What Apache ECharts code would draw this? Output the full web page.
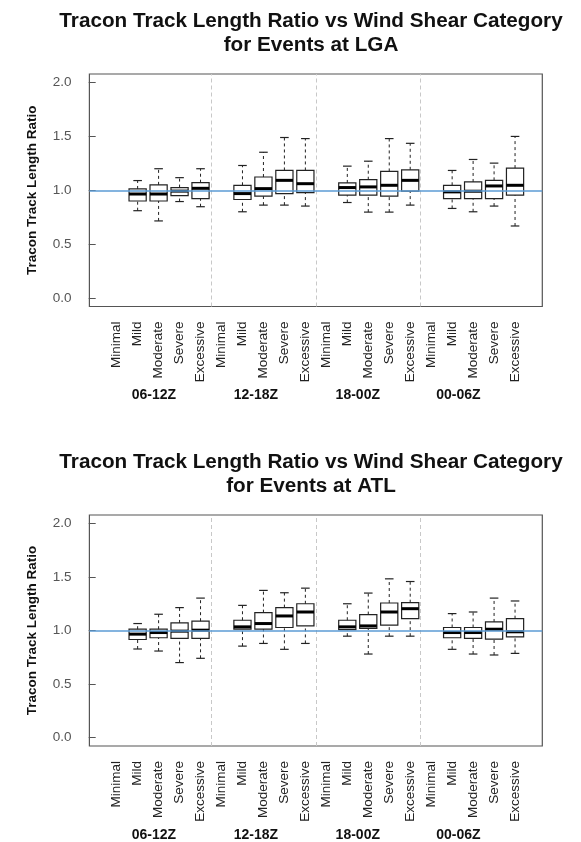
<!DOCTYPE html>
<html>
<head>
<meta charset="utf-8">
<script src="https://cdn.jsdelivr.net/npm/echarts@6/dist/echarts.min.js"></script>
<style>
  html, body { margin: 0; padding: 0; background: #fff; }
  #chart { width: 581px; height: 842px; }
</style>
</head>
<body>
<div id="chart"></div>
<script>
// ---------------- DATA ----------------
const categories = ['Minimal', 'Mild', 'Moderate', 'Severe', 'Excessive'];
const timeGroups = ['06-12Z', '12-18Z', '18-00Z', '00-06Z'];
const yTicks = [0, 0.5, 1, 1.5, 2];
const referenceValue = 1.0;

// LGA (order: 06-12Z, 12-18Z, 18-00Z, 00-06Z; each Minimal, Mild, Moderate, Severe, Excessive)
const lgaLow    = [null, 0.81, 0.715, 0.895, 0.847,  null, 0.80, 0.862, 0.862, 0.853,  null, 0.886, 0.797, 0.797, 0.862,  null, 0.831, 0.80, 0.853, 0.668];
const lgaQ1     = [null, 0.90, 0.90, 0.95, 0.923,    null, 0.914, 0.945, 0.969, 0.978, null, 0.954, 0.954, 0.945, 0.991, null, 0.923, 0.923, 0.923, 0.954];
const lgaMedian = [null, 0.965, 0.965, 0.992, 1.018, null, 0.969, 1.015, 1.092, 1.061, null, 1.025, 1.031, 1.046, 1.092, null, 0.985, 0.991, 1.04, 1.046];
const lgaQ3     = [null, 1.012, 1.05, 1.025, 1.07,   null, 1.046, 1.123, 1.184, 1.184, null, 1.068, 1.098, 1.175, 1.19,  null, 1.046, 1.077, 1.092, 1.206];
const lgaHigh   = [null, 1.09, 1.20, 1.117, 1.20,    null, 1.23, 1.353, 1.49, 1.48,    null, 1.224, 1.27, 1.48, 1.436,   null, 1.184, 1.286, 1.252, 1.50];

// ATL
const atlLow    = [null, 0.827, 0.808, 0.70, 0.74,   null, 0.854, 0.879, 0.824, 0.879, null, 0.947, 0.78, 0.947, 0.947,  null, 0.824, 0.78, 0.771, 0.786];
const atlQ1     = [null, 0.916, 0.932, 0.926, 0.926, null, 1.012, 1.012, 1.028, 1.043, null, 1.009, 1.019, 1.05, 1.111,  null, 0.932, 0.926, 0.92, 0.941];
const atlMedian = [null, 0.966, 0.981, 0.994, 1.003, null, 1.034, 1.065, 1.136, 1.173, null, 1.034, 1.043, 1.173, 1.204, null, 0.981, 0.981, 1.012, 0.988];
const atlQ3     = [null, 1.012, 1.012, 1.071, 1.087, null, 1.096, 1.167, 1.214, 1.25,  null, 1.096, 1.149, 1.257, 1.26,  null, 1.028, 1.028, 1.08, 1.111];
const atlHigh   = [null, 1.065, 1.152, 1.214, 1.303, null, 1.235, 1.375, 1.353, 1.396, null, 1.25, 1.35, 1.483, 1.458,   null, 1.158, 1.173, 1.303, 1.276];

const titleLine1 = 'Tracon Track Length Ratio vs Wind Shear Category';
const lgaTitle2 = 'for Events at LGA';
const atlTitle2 = 'for Events at ATL';
const yName = 'Tracon Track Length Ratio';

// ---------------- LAYOUT / STYLE ----------------
const nCat = categories.length * timeGroups.length;
const xMin = 0.5 - 0.04 * nCat;   // R-style 4% padding
const xMax = nCat + 0.5 + 0.04 * nCat;
const yMin = -0.08, yMax = 2.08;
const boxWidth = 0.82;
const groupLabelAt = [2.78, 7.64, 12.5, 17.3];
const separators = [5.5, 10.5, 15.5];
const FONT = '"Liberation Sans", Arial, sans-serif';

function buildRows(low, q1, med, q3, high) {
  const rows = [];
  for (let i = 0; i < nCat; i++) {
    if (med[i] == null) continue;
    rows.push([i + 1, low[i], q1[i], med[i], q3[i], high[i]]);
  }
  return rows;
}

function renderBox(params, api) {
  const x = api.value(0);
  const pLo = api.coord([x, api.value(1)]);
  const pQ1 = api.coord([x, api.value(2)]);
  const pMd = api.coord([x, api.value(3)]);
  const pQ3 = api.coord([x, api.value(4)]);
  const pHi = api.coord([x, api.value(5)]);
  const w = api.size([boxWidth, 0])[0];
  const cx = pMd[0];
  const cap = w / 4;
  const stroke = '#222';
  return {
    type: 'group',
    children: [
      { type: 'line', shape: { x1: cx, y1: pQ3[1], x2: cx, y2: pHi[1] },
        style: { stroke: stroke, lineWidth: 1, lineDash: [3, 3] } },
      { type: 'line', shape: { x1: cx, y1: pLo[1], x2: cx, y2: pQ1[1] },
        style: { stroke: stroke, lineWidth: 1, lineDash: [3, 3] } },
      { type: 'line', shape: { x1: cx - cap, y1: pHi[1], x2: cx + cap, y2: pHi[1] },
        style: { stroke: stroke, lineWidth: 1.2 } },
      { type: 'line', shape: { x1: cx - cap, y1: pLo[1], x2: cx + cap, y2: pLo[1] },
        style: { stroke: stroke, lineWidth: 1.2 } },
      { type: 'rect', shape: { x: cx - w / 2, y: pQ3[1], width: w, height: pQ1[1] - pQ3[1] },
        style: { stroke: stroke, lineWidth: 1.2, fill: 'rgba(255,255,255,0)' } },
      { type: 'line', shape: { x1: cx - w / 2, y1: pMd[1], x2: cx + w / 2, y2: pMd[1] },
        style: { stroke: '#000', lineWidth: 3 } }
    ]
  };
}

const grids = [
  { left: 89.4, right: 38.7, top: 74, height: 232.5, show: true, borderColor: '#555', borderWidth: 1.2 },
  { left: 89.4, right: 38.7, top: 515, height: 231, show: true, borderColor: '#555', borderWidth: 1.2 }
];

const xAxes = [], yAxes = [], series = [];
const catPositions = [];
for (let i = 1; i <= nCat; i++) catPositions.push(i);

[0, 1].forEach(function (g) {
  xAxes.push({
    type: 'value', gridIndex: g, min: xMin, max: xMax,
    axisLine: { show: false }, axisTick: { show: false }, splitLine: { show: false },
    axisLabel: {
      customValues: catPositions,
      formatter: function (v) { return categories[(Math.round(v) - 1) % categories.length]; },
      rotate: 90, margin: 15, fontSize: 13.5, color: '#222', fontFamily: FONT
    }
  });
  xAxes.push({
    type: 'value', gridIndex: g, min: xMin, max: xMax, position: 'bottom',
    axisLine: { show: false }, axisTick: { show: false }, splitLine: { show: false },
    axisLabel: {
      customValues: groupLabelAt,
      formatter: function (v) {
        let best = 0;
        groupLabelAt.forEach(function (p, k) { if (Math.abs(p - v) < Math.abs(groupLabelAt[best] - v)) best = k; });
        return timeGroups[best];
      },
      margin: 82, fontSize: 14, fontWeight: 'bold', color: '#111', fontFamily: FONT
    }
  });
  yAxes.push({
    type: 'value', gridIndex: g, min: yMin, max: yMax,
    axisLine: { show: false },
    splitLine: { show: false },
    axisTick: { show: true, customValues: yTicks, length: 7, lineStyle: { color: '#555', width: 1 } },
    axisLabel: {
      customValues: yTicks, formatter: function (v) { return v.toFixed(1); },
      margin: 18, fontSize: 13.5, color: '#555', fontFamily: FONT
    },
    name: yName, nameLocation: 'middle', nameRotate: 90, nameGap: 50,
    nameTextStyle: { fontSize: 13.5, fontWeight: 'bold', color: '#111', fontFamily: FONT }
  });
});

const panels = [
  buildRows(lgaLow, lgaQ1, lgaMedian, lgaQ3, lgaHigh),
  buildRows(atlLow, atlQ1, atlMedian, atlQ3, atlHigh)
];

panels.forEach(function (rows, g) {
  // separators
  series.push({
    type: 'line', xAxisIndex: g * 2, yAxisIndex: g, data: [], silent: true, z: 1,
    markLine: {
      symbol: 'none', silent: true, label: { show: false },
      lineStyle: { color: '#c8c8c8', type: [4, 3], width: 1 },
      data: separators.map(function (s) { return { xAxis: s }; })
    }
  });
  // boxes
  series.push({
    type: 'custom', xAxisIndex: g * 2, yAxisIndex: g, z: 3,
    renderItem: renderBox,
    encode: { x: 0, y: [1, 2, 3, 4, 5] },
    data: rows
  });
  // reference line
  series.push({
    type: 'line', xAxisIndex: g * 2, yAxisIndex: g, data: [], silent: true, z: 5,
    markLine: {
      symbol: 'none', silent: true, label: { show: false },
      lineStyle: { color: '#5b9bd5', type: 'solid', width: 1.5 },
      data: [{ yAxis: referenceValue }]
    }
  });
});

const titleStyle = { fontSize: 20.7, fontWeight: 'bold', fill: '#111', fontFamily: FONT, textAlign: 'center', textVerticalAlign: 'middle' };
const graphics = [
  { type: 'text', x: 311, y: 21, style: Object.assign({ text: titleLine1 }, titleStyle) },
  { type: 'text', x: 311, y: 45, style: Object.assign({ text: lgaTitle2 }, titleStyle) },
  { type: 'text', x: 311, y: 462, style: Object.assign({ text: titleLine1 }, titleStyle) },
  { type: 'text', x: 311, y: 486, style: Object.assign({ text: atlTitle2 }, titleStyle) }
];

const chart = echarts.init(document.getElementById('chart'), null, { renderer: 'canvas' });
chart.setOption({
  animation: false,
  backgroundColor: '#fff',
  grid: grids,
  xAxis: xAxes,
  yAxis: yAxes,
  series: series,
  graphic: graphics
});
</script>
</body>
</html>
